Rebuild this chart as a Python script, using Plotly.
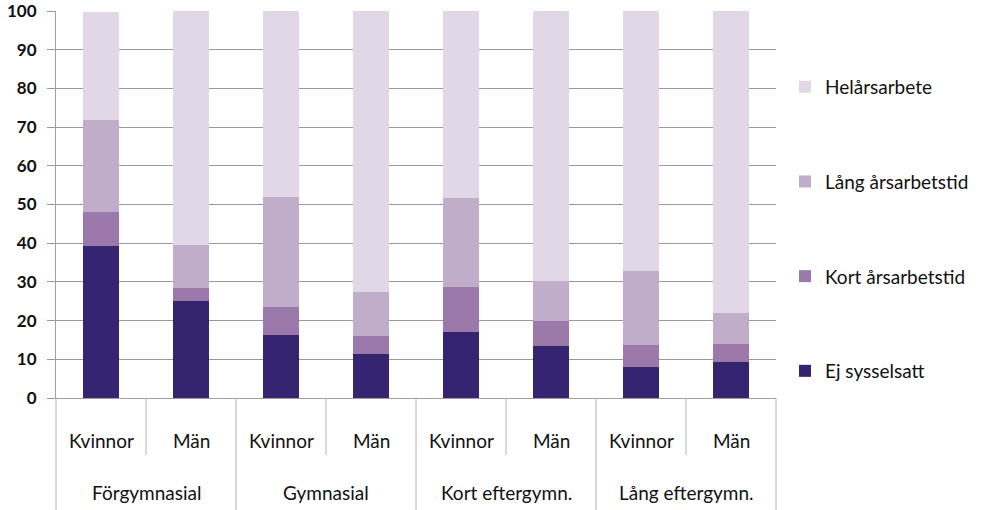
import plotly.graph_objs as go

# category labels
utbildning = ['Förgymnasial', 'Förgymnasial', 'Gymnasial', 'Gymnasial',
              'Kort eftergymn.', 'Kort eftergymn.', 'Lång eftergymn.', 'Lång eftergymn.']
kon = ['Kvinnor', 'Män', 'Kvinnor', 'Män', 'Kvinnor', 'Män', 'Kvinnor', 'Män']

# shares, percent
ej_sysselsatt = [39.3, 25.1, 16.4, 11.4, 17.1, 13.5, 8.1, 9.4]
kort_arsarbetstid = [8.8, 3.4, 7.2, 4.7, 11.6, 6.5, 5.7, 4.6]
lang_arsarbetstid = [23.8, 11.1, 28.4, 11.4, 23.0, 10.3, 19.1, 8.0]
helarsarbete = [27.9, 60.4, 48.0, 72.5, 48.3, 69.7, 67.1, 78.0]

series = [
    ('Ej sysselsatt', ej_sysselsatt, '#35246f'),
    ('Kort årsarbetstid', kort_arsarbetstid, '#9b7aab'),
    ('Lång årsarbetstid', lang_arsarbetstid, '#c0adca'),
    ('Helårsarbete', helarsarbete, '#e2d7e6'),
]

font_family = 'Lato, Open Sans, sans-serif'
sep_color = '#b4b4b4'

fig = go.Figure()
for k, (name, vals, col) in enumerate(series):
    fig.add_trace(go.Bar(x=[utbildning, kon], y=vals, name=name,
                         marker=dict(color=col, line=dict(width=0)),
                         legendgroup=name, legendrank=len(series) - k))

n = len(kon)

# category labels and separators below the axis
for i, lab in enumerate(kon):
    fig.add_annotation(text=lab, xref='paper', yref='paper', x=(i + 0.5) / n, y=-0.109,
                       showarrow=False, xanchor='center', yanchor='middle',
                       font=dict(size=19))
    # short line between the two bars of a group
    if i % 2 == 1:
        fig.add_shape(type='line', xref='paper', yref='paper', x0=i / n, x1=i / n,
                      y0=0, y1=-0.147, line=dict(color=sep_color, width=1))

groups = utbildning[::2]
for g, lab in enumerate(groups):
    fig.add_annotation(text=lab, xref='paper', yref='paper', x=(2 * g + 1) / n, y=-0.245,
                       showarrow=False, xanchor='center', yanchor='middle',
                       font=dict(size=19))
for g in range(len(groups) + 1):
    fig.add_shape(type='line', xref='paper', yref='paper', x0=2 * g / n, x1=2 * g / n,
                  y0=0, y1=-0.29, line=dict(color=sep_color, width=1))

fig.update_layout(
    width=983, height=510,
    barmode='stack',
    bargap=0.59,
    plot_bgcolor='white',
    paper_bgcolor='white',
    margin=dict(l=56, r=207, t=11, b=112, autoexpand=False),
    font=dict(family=font_family, size=19, color='#111111'),
    showlegend=True,
    legend=dict(
        x=1.0125, y=0.853, xanchor='left', yanchor='top',
        traceorder='grouped', tracegroupgap=67,
        font=dict(size=19, color='#111111'),
        itemwidth=30,
    ),
    xaxis=dict(
        type='multicategory',
        showline=True, linecolor='#a0a0a0', linewidth=1,
        ticks='', showticklabels=False,
        showdividers=False,
        showgrid=False,
        automargin=False,
    ),
    yaxis=dict(
        range=[0, 100], dtick=10,
        showgrid=True, gridcolor='#999999', gridwidth=1,
        showline=True, linecolor='#a0a0a0',
        ticks='outside', ticklen=8, tickcolor='#999999',
        ticklabelstandoff=7, ticklabeloverflow='allow',
        tickfont=dict(size=17, family=font_family, weight=700),
        zeroline=False,
        automargin=False,
    ),
)

# page body has a default 8px margin; drop it so the figure sits at the corner
fig.write_html('out.html', config={'displayModeBar': False},
               post_script="document.body.style.margin='0';")
